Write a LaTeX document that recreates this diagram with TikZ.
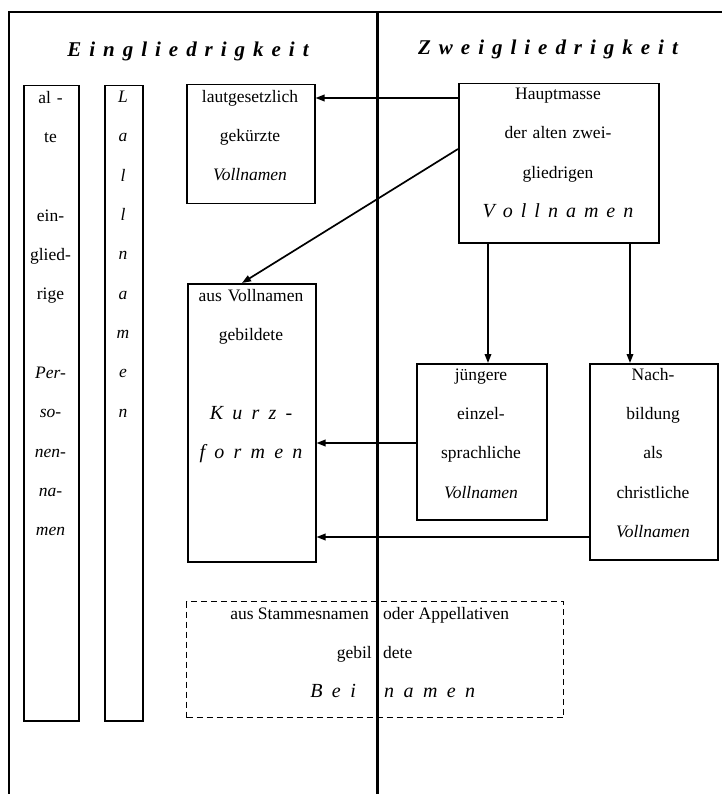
\documentclass[tikz,border=0pt]{standalone}
\usepackage{fontspec}
\setmainfont{Liberation Serif}
\usetikzlibrary{arrows.meta}
\makeatletter
\newlength\spgap
\def\spw#1#2{\setlength\spgap{#1}\spw@a#2\relax}
\def\spw@a#1#2{#1\ifx\relax#2\expandafter\@gobble\else\hspace{\spgap}\expandafter\spw@a\fi#2}
\makeatother
\begin{document}
\begin{tikzpicture}[x=1pt,y=-1pt,
  box/.style={draw, line width=1.5pt, inner sep=0pt, anchor=north west},
  dbox/.style={draw, line width=1.1pt, dash pattern=on 6pt off 4pt, inner sep=0pt, anchor=north west},
  txt/.style={inner sep=0pt, align=center, anchor=north, font=\fontsize{17.5}{39.3}\selectfont},
  ltxt/.style={inner sep=0pt, font=\fontsize{17.5}{21}\selectfont},
  big/.style={inner sep=0pt, font=\fontsize{20}{24}\selectfont\itshape},
  ttl/.style={inner sep=0pt, anchor=base, font=\fontsize{21}{25}\selectfont\bfseries\itshape},
  arr/.style={line width=1.7pt, -{Triangle[length=9pt,width=6.5pt]}},
  frame/.style={line width=2.6pt},
  divider/.style={line width=3pt}
]
\useasboundingbox (0,0) rectangle (722,794);

% titles
\node[ttl] (tE) at (188,57) {\spw{0.38em}{Eingliedrigkeit}};
\node[ttl] (tZ) at (548,55) {\spw{0.38em}{Zweigliedrigkeit}};

% boxes
\node[box, minimum width=55pt, minimum height=635pt] (al) at (23,85) {};
\node[box, minimum width=38pt, minimum height=635pt] (ll) at (104,85) {};
\node[box, minimum width=128pt, minimum height=119pt] (lg) at (186,84) {};
\node[box, minimum width=200pt, minimum height=159pt] (hm) at (458,83) {};
\node[box, minimum width=128pt, minimum height=278pt] (kf) at (187,283) {};
\node[box, minimum width=130pt, minimum height=156pt] (jg) at (416,363) {};
\node[box, minimum width=128pt, minimum height=196pt] (nb) at (589,363) {};
\node[dbox, minimum width=377pt, minimum height=116pt] (db) at (186,601) {};

% texts in boxes
\node[txt, text width=52pt] (alT) at (50.5,91)
  {al -\\te\\\mbox{}\\ein-\\glied-\\rige\\\mbox{}\\\textit{Per-}\\\textit{so-}\\\textit{nen-}\\\textit{na-}\\\textit{men}};
\node[txt, text width=36pt, font=\fontsize{17.5}{39.3}\selectfont\itshape] (llT) at (123,91)
  {L\\a\\l\\l\\n\\a\\m\\e\\n};
\node[txt, text width=124pt] (lgT) at (250,90)
  {lautgesetzlich\\gek\"urzte\\\textit{Vollnamen}};
\node[txt, text width=196pt] (hmT) at (558,88)
  {Hauptmasse\\der alten zwei-\\gliedrigen\\{\fontsize{20}{39.3}\selectfont\itshape\spw{0.4em}{Vollnamen}}};
\node[txt, text width=124pt] (kfT) at (251,289)
  {aus Vollnamen\\gebildete\\\mbox{}\\{\fontsize{20}{39.3}\selectfont\itshape\spw{0.46em}{Kurz-}}\\{\fontsize{20}{39.3}\selectfont\itshape\spw{0.46em}{formen}}};
\node[txt, text width=126pt] (jgT) at (481,368)
  {\vphantom{l}j\"ungere\\einzel-\\sprachliche\\\textit{Vollnamen}};
\node[txt, text width=124pt] (nbT) at (653,368)
  {Nach-\\bildung\\als\\christliche\\\textit{Vollnamen}};

% texts in dashed box
\node[ltxt, anchor=base east] (d1a) at (369,619) {aus Stammesnamen};
\node[ltxt, anchor=base west] (d1b) at (383,619) {oder Appellativen};
\node[ltxt, anchor=base east] (d2a) at (372,658) {gebil};
\node[ltxt, anchor=base west] (d2b) at (383,658) {dete};
\node[big, anchor=base east] (d3a) at (356,697) {\spw{0.47em}{Bei}};
\node[big, anchor=base west] (d3b) at (384,697) {\spw{0.47em}{namen}};

% connectors
\draw[arr] ([yshift=-15pt]hm.north west) -- ([yshift=-15pt]hm.north west -| lg.east);
\draw[arr] ([yshift=-66pt]hm.north west) -- ([xshift=55pt]kf.north west);
\draw[arr] ([xshift=30pt]hm.south west) -- ([xshift=30pt]hm.south west |- jg.north);
\draw[arr] ([xshift=172pt]hm.south west) -- ([xshift=172pt]hm.south west |- nb.north);
\draw[arr] ([yshift=-80pt]jg.north west) -- ([yshift=-80pt]jg.north west -| kf.east);
\draw[arr] ([yshift=-174pt]nb.north west) -- ([yshift=-174pt]nb.north west -| kf.east);

% frame and divider
\draw[frame] (9,794) -- (9,12) -- (722,12);
\draw[divider] (377,12) -- (377,794);
\end{tikzpicture}
\end{document}
